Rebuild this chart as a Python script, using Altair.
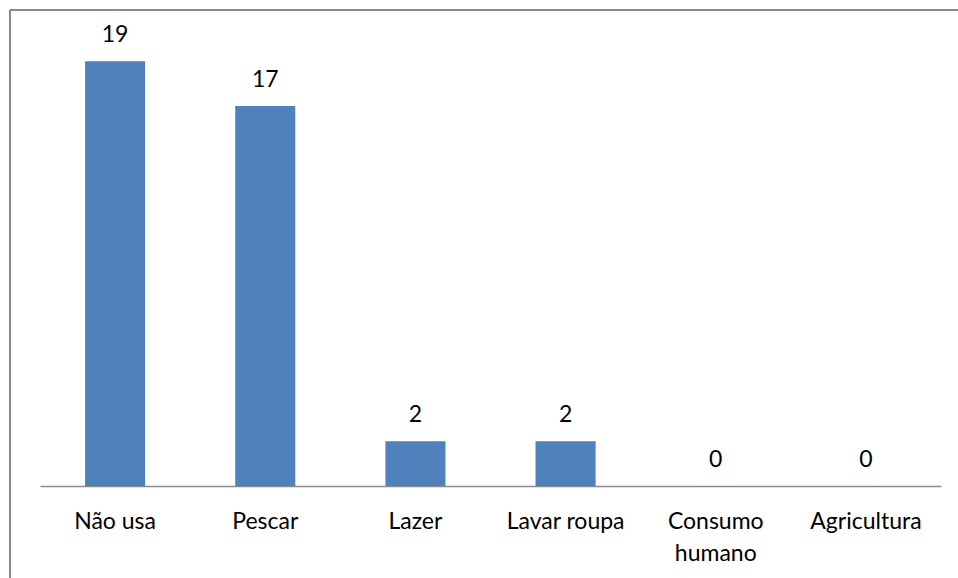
import altair as alt
import pandas as pd

# Uses of the water, with the number of answers for each
categories = ["Não usa", "Pescar", "Lazer", "Lavar roupa", "Consumo humano", "Agricultura"]
counts = [19, 17, 2, 2, 0, 0]

df = pd.DataFrame({"uso": categories, "n": counts})

FONT = "Lato"
FS = 23
W, H = 901, 447
FRAME = "#8a8a8a"

x = alt.X(
    "uso:N",
    sort=categories,
    scale=alt.Scale(paddingInner=0.6, paddingOuter=0.3),
    axis=alt.Axis(
        title=None,
        ticks=False,
        labelAngle=0,
        labelFont=FONT,
        labelFontSize=FS,
        labelColor="#000000",
        labelBaseline="alphabetic",
        labelPadding=42,
        labelLineHeight=32,
        labelExpr="datum.value == 'Consumo humano' ? ['Consumo', 'humano'] : datum.value",
        domainColor=FRAME,
        domainWidth=1.5,
    ),
)
y = alt.Y(
    "n:Q",
    scale=alt.Scale(domain=[0, 20], nice=False),
    axis=None,
)

base = alt.Chart(df)
one = base.transform_filter("datum.uso == 'Não usa'")

# chart border: top and left edges (the others run past the canvas)
frame_top = one.mark_rule(color=FRAME, strokeWidth=2).encode(
    x=alt.value(-30), x2=alt.value(W + 300), y=alt.value(-29)
)
frame_left = one.mark_rule(color=FRAME, strokeWidth=2).encode(
    x=alt.value(-30), y=alt.value(-29), y2=alt.value(H + 300)
)

bars = base.mark_bar(color="#4F81BD").encode(x=x, y=y)

labels = base.mark_text(
    font=FONT, fontSize=FS, color="#000000", baseline="alphabetic", dy=-19
).encode(x=x, y=y, text="n:Q")

chart = (
    alt.layer(frame_top, frame_left, bars, labels)
    .properties(
        width=W,
        height=H,
        background="#ffffff",
        autosize=alt.AutoSizeParams(type="none"),
        padding={"left": 40, "top": 39, "right": 17, "bottom": 92},
    )
    .configure_view(strokeWidth=0, strokeOpacity=0)
)

chart.save("out.html", embed_options={"renderer": "svg", "actions": False})
